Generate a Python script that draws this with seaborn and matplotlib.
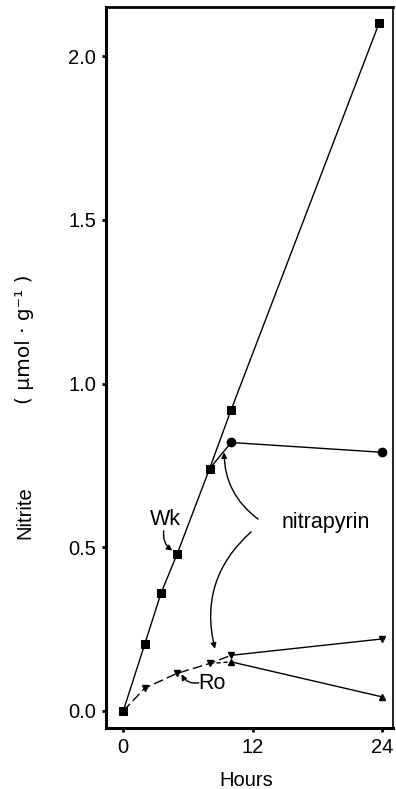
import matplotlib
matplotlib.use("Agg")
import matplotlib.pyplot as plt
import seaborn as sns
import pandas as pd

# ---- data ----
wk_hours = [0, 2, 3.5, 5, 8, 10, 23.7]
wk_vals = [0.0, 0.205, 0.36, 0.48, 0.74, 0.92, 2.10]

wk_nitra_hours = [8, 10, 24]
wk_nitra_vals = [0.74, 0.82, 0.79]

ro_hours = [0, 2, 5, 8, 10]
ro_vals = [0.0, 0.07, 0.115, 0.145, 0.17]

ro_late_hours = [10, 24]
ro_late_vals = [0.17, 0.22]

ro_nitra_hours = [8, 10, 24]
ro_nitra_vals = [0.145, 0.15, 0.043]

x_ticks = [0, 12, 24]
y_ticks = [0.0, 0.5, 1.0, 1.5, 2.0]
y_ticklabels = ["0.0", "0.5", "1.0", "1.5", "2.0"]

sns.set_theme(style="white")
plt.rcParams['font.family'] = ['Liberation Sans', 'DejaVu Sans']
plt.rcParams['text.color'] = 'black'
plt.rcParams['axes.labelcolor'] = 'black'

fig = plt.figure(figsize=(3.96, 7.89), dpi=100)
ax = fig.add_axes([106/396, 1-728/789, (393-106)/396, (728-7)/789])

df_wk = pd.DataFrame({"h": wk_hours, "v": wk_vals})
df_wkn = pd.DataFrame({"h": wk_nitra_hours, "v": wk_nitra_vals})
df_ro = pd.DataFrame({"h": ro_hours, "v": ro_vals})
df_rol = pd.DataFrame({"h": ro_late_hours, "v": ro_late_vals})
df_ron = pd.DataFrame({"h": ro_nitra_hours, "v": ro_nitra_vals})

lw = 1.0
# Wk control
sns.lineplot(data=df_wk, x="h", y="v", ax=ax, color="black", lw=lw,
             marker="s", markersize=5.5, markeredgecolor="black", sort=False)
# Wk + nitrapyrin
sns.lineplot(data=df_wkn, x="h", y="v", ax=ax, color="black", lw=lw, sort=False)
ax.plot(wk_nitra_hours[1:], wk_nitra_vals[1:], 'o', color='black', ms=6)
# Ro control (dashed first part)
sns.lineplot(data=df_ro, x="h", y="v", ax=ax, color="black", lw=lw,
             linestyle=(0, (7, 3)), sort=False)
ax.plot(ro_hours[1:], ro_vals[1:], 'v', color='black', ms=5)
sns.lineplot(data=df_rol, x="h", y="v", ax=ax, color="black", lw=lw, sort=False)
ax.plot(ro_late_hours[1:], ro_late_vals[1:], 'v', color='black', ms=5)
# Ro + nitrapyrin
sns.lineplot(data=df_ron.iloc[:2], x="h", y="v", ax=ax, color="black", lw=lw,
             linestyle=(0, (3, 2)), sort=False)
sns.lineplot(data=df_ron.iloc[1:], x="h", y="v", ax=ax, color="black", lw=lw, sort=False)
ax.plot(ro_nitra_hours[1:], ro_nitra_vals[1:], '^', color='black', ms=5)

ax.set_xlim(-1.6, 25.0)
ax.set_ylim(-0.052, 2.15)
ax.set_xticks(x_ticks)
ax.set_yticks(y_ticks)
ax.set_yticklabels(y_ticklabels)
ax.set_xlabel("")
ax.set_ylabel("")
ax.tick_params(axis='both', which='both', direction='out', length=3, width=2,
               labelsize=14.5, color='black', labelcolor='black', pad=4,
               left=True, bottom=True)
for s in ax.spines.values():
    s.set_color('black')
    s.set_linewidth(2.2)
ax.spines['right'].set_linewidth(1.2)
ax.spines['top'].set_linewidth(2.0)

# axis labels
fig.text(246/396, 1-780/789, "Hours", ha='center', va='center', fontsize=14.5)
fig.text(25/396, 1-513/789, "Nitrite", ha='center', va='center', rotation=90, fontsize=14.5)
fig.text(25/396, 1-339/789, "( μmol · g⁻¹ )", ha='center', va='center', rotation=90,
         fontsize=14.5, family=['DejaVu Sans'])

# annotations
arrow = dict(arrowstyle='-|>', color='black', lw=1.0, mutation_scale=8,
             shrinkA=0, shrinkB=0)
ax.text(3.9, 0.585, "Wk", ha='center', va='center', fontsize=15.5)
ax.annotate("", xy=(4.55, 0.49), xytext=(3.75, 0.55),
            arrowprops=dict(arrow, connectionstyle="arc3,rad=0.3"))
ax.text(18.8, 0.575, "nitrapyrin", ha='center', va='center', fontsize=15.5)
ax.annotate("", xy=(9.35, 0.79), xytext=(12.5, 0.586),
            arrowprops=dict(arrow, connectionstyle="arc3,rad=-0.25"))
ax.annotate("", xy=(8.5, 0.19), xytext=(11.85, 0.547),
            arrowprops=dict(arrow, connectionstyle="arc3,rad=0.3"))
ax.text(8.2, 0.085, "Ro", ha='center', va='center', fontsize=15.5)
ax.annotate("", xy=(5.4, 0.112), xytext=(7.0, 0.086),
            arrowprops=dict(arrow, connectionstyle="arc3,rad=-0.35"))

fig.savefig("out.png", dpi=100)
